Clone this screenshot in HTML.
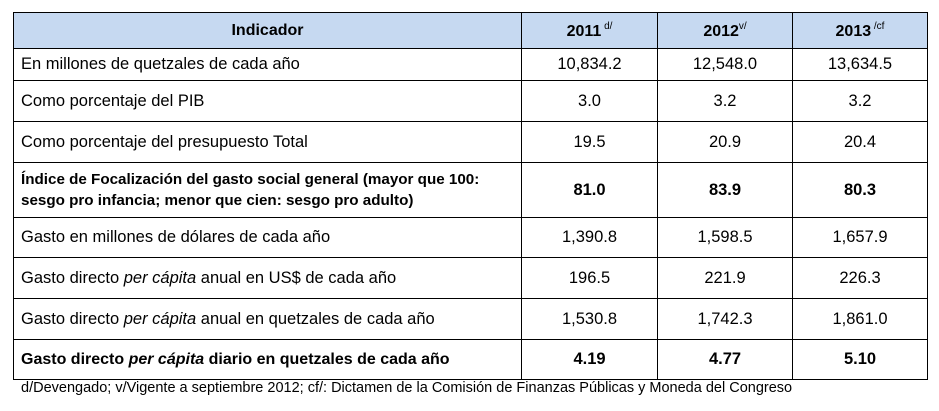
<!DOCTYPE html>
<html><head><meta charset="utf-8"><style>
body{margin:0;background:#fff;width:939px;height:411px;overflow:hidden;font-family:"Liberation Sans",sans-serif;}
table{position:absolute;left:13px;top:12px;border-collapse:collapse;font-size:16.5px;color:#000;table-layout:fixed;}
td,th{border:1.3px solid #000;padding:0 0 0 7px;white-space:nowrap;}
th{background:#c6d9f1;font-weight:bold;text-align:center;padding:0;font-size:16px;}
td.n{text-align:center;padding:0;}
sup{font-size:10px;vertical-align:7px;font-weight:normal;}
.b{font-weight:bold;}
.f{position:absolute;left:21px;top:380px;font-size:14.5px;white-space:nowrap;}
</style></head><body>
<table>
<colgroup><col style="width:508px"><col style="width:136px"><col style="width:135px"><col style="width:135px"></colgroup>
<tr style="height:36px"><th>Indicador</th><th>2011<sup> d/</sup></th><th>2012<sup>v/</sup></th><th>2013<sup> /cf</sup></th></tr>
<tr style="height:32px"><td>En millones de quetzales de cada año</td><td class="n">10,834.2</td><td class="n">12,548.0</td><td class="n">13,634.5</td></tr>
<tr style="height:41px"><td>Como porcentaje del PIB</td><td class="n">3.0</td><td class="n">3.2</td><td class="n">3.2</td></tr>
<tr style="height:41px"><td>Como porcentaje del presupuesto Total</td><td class="n">19.5</td><td class="n">20.9</td><td class="n">20.4</td></tr>
<tr style="height:55px" class="b"><td style="line-height:21px;font-size:15.2px">Índice de Focalización del gasto social general (mayor que 100:<br>sesgo pro infancia; menor que cien: sesgo pro adulto)</td><td class="n">81.0</td><td class="n">83.9</td><td class="n">80.3</td></tr>
<tr style="height:40px"><td>Gasto en millones de dólares de cada año</td><td class="n">1,390.8</td><td class="n">1,598.5</td><td class="n">1,657.9</td></tr>
<tr style="height:41px"><td>Gasto directo <i>per cápita</i> anual en US$ de cada año</td><td class="n">196.5</td><td class="n">221.9</td><td class="n">226.3</td></tr>
<tr style="height:41px"><td>Gasto directo <i>per cápita</i> anual en quetzales de cada año</td><td class="n">1,530.8</td><td class="n">1,742.3</td><td class="n">1,861.0</td></tr>
<tr style="height:40px" class="b"><td style="font-size:16px">Gasto directo <i>per cápita</i> diario en quetzales de cada año</td><td class="n">4.19</td><td class="n">4.77</td><td class="n">5.10</td></tr>
</table>
<div class="f">d/Devengado; v/Vigente a septiembre 2012; cf/: Dictamen de la Comisión de Finanzas Públicas y Moneda del Congreso</div>
</body></html>
